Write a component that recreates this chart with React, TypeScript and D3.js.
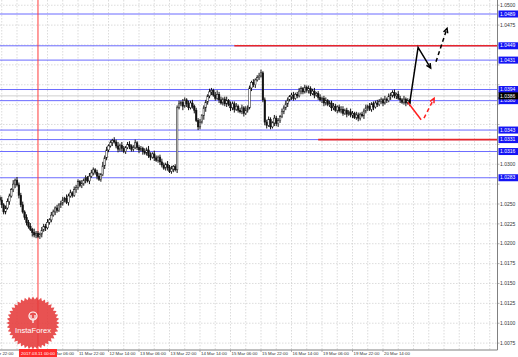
import React from "react";
import * as d3 from "d3";

const W = 518;
const H = 357;
const plotRight = 497.5;
const plotBottom = 350;

// candle data in pips above 1.0000 (open = previous close)
const firstBar = 7;
const firstOpen = 258;
const closes = [
  255, 249, 240, 245, 253, 260,
  268, 275, 280, 274,
  261, 249, 240, 233, 227, 222,
  218, 214, 211, 213, 209, 212,
  217, 222, 220, 227, 230,
  236, 240, 245, 242, 249, 251,
  255, 257, 252, 260, 264, 261,
  268, 271, 278, 273, 276, 280,
  283, 279, 285, 289, 293, 290,
  285, 281, 287, 298, 308,
  318, 323, 327, 330, 328,
  323, 319, 324, 320, 316, 321, 325,
  323, 319, 321, 327, 321, 318, 320, 316,
  314, 318, 311, 309, 313, 308, 305, 309,
  303, 299, 295, 300, 296, 291, 294, 297, 293,
  371, 376,
  378, 373, 381, 376, 371, 377, 373, 368,
  355, 347, 353, 361,
  371, 378, 386, 391, 393,
  387, 383, 388, 381, 377, 382, 376, 380,
  375, 371, 376, 369, 373, 368, 366, 371, 364,
  368, 371,
  396, 403, 400, 406, 409, 411, 415,
  381, 353,
  349, 356, 347, 352, 358, 351, 355, 360,
  366, 371, 376, 381, 385, 387,
  383, 388, 386, 392, 395, 391, 397, 393,
  395, 389, 392, 387, 389, 384, 381,
  383, 377, 380, 375, 377, 371, 373, 368,
  372, 367, 369, 364, 368, 363, 366, 362,
  364, 359, 362, 358, 363, 361, 367,
  371, 373, 369, 376, 372, 377, 375,
  379, 381, 377, 382, 380, 385, 387,
  390, 386, 388, 383, 381,
  378, 382, 377, 380, 376,
];
const upperWicks =
  "3423432524" + "3342434253" + "3243342432" + "4234253424" + "3324232443" +
  "2342534232" + "4352432342" + "3423324354" + "2432343243" + "4233424324" +
  "3423342332" + "4324534235" + "2433423425" + "3324234423" + "3432433243" +
  "4323423432" + "3243342342" + "3423343234" + "4232432432" + "3342423343" +
  "3242433424" + "324232";
const lowerWicks =
  "2433242352" + "4323432534" + "2342423324" + "3243324232" + "4323342423" +
  "3423243324" + "2343423243" + "3234242334" + "2423432342" + "3424235243" +
  "2342432553" + "3423242334" + "2434232342" + "3243423234" + "4232434323" +
  "3424323243" + "2343242324" + "4323432423" + "3242342343" + "2434234232" +
  "3423243342" + "423423";

const timeLabels = [
  "09 Mar 22:00", "10 Mar 14:00", "11 Mar 06:00", "11 Mar 22:00", "12 Mar 14:00",
  "13 Mar 06:00", "13 Mar 22:00", "14 Mar 14:00", "15 Mar 06:00", "15 Mar 22:00",
  "16 Mar 14:00", "19 Mar 06:00", "19 Mar 22:00", "20 Mar 14:00",
];
const barsPerLabel = 16;
const barsPerGrid = 8;

const priceTicks = [
  1.05, 1.0475, 1.045, 1.0425, 1.04, 1.0375, 1.035, 1.0325, 1.03, 1.0275,
  1.025, 1.0225, 1.02, 1.0175, 1.015, 1.0125, 1.01, 1.0075,
];

const blueLevels = [1.0489, 1.0449, 1.0431, 1.0394, 1.038, 1.0343, 1.0331, 1.0316, 1.0283];
const bidLevel = 1.0386;
const redLevels = [
  { price: 1.0449, fromBar: 130 },
  { price: 1.0331, fromBar: 174 },
];
const markerBar = 27;
const markerLabel = "2017.03.11 00:00";

const blackSolid: [number, number][] = [[222, 1.0377], [226.4, 1.0447], [233, 1.0421]];
const blackDashed: [number, number][] = [[235.8, 1.0429], [241.6, 1.0471]];
const redSolid: [number, number][] = [[221, 1.0378], [228, 1.0356]];
const redDashed: [number, number][] = [[229.5, 1.0358], [234.8, 1.0383]];

const x = d3.scaleLinear().domain([0, 16]).range([-13.5, 17]);
const y = d3.scaleLinear().domain([1.0489, 1.0075]).range([14, 343.1]);

function arrowHead(pts: [number, number][], color: string, len = 5) {
  const a = pts[pts.length - 2];
  const b = pts[pts.length - 1];
  const x1 = x(a[0]), y1 = y(a[1]), x2 = x(b[0]), y2 = y(b[1]);
  const ang = Math.atan2(y2 - y1, x2 - x1);
  const s = 0.45;
  const p1 = [x2 - len * Math.cos(ang - s), y2 - len * Math.sin(ang - s)];
  const p2 = [x2 - len * Math.cos(ang + s), y2 - len * Math.sin(ang + s)];
  return (
    <path
      d={`M${p1[0]},${p1[1]}L${x2},${y2}L${p2[0]},${p2[1]}`}
      fill="none"
      stroke={color}
      strokeWidth={1.5}
    />
  );
}

function serratedPath(cx: number, cy: number, r1: number, r2: number, n: number) {
  const pts: string[] = [];
  for (let k = 0; k < n * 2; k++) {
    const r = k % 2 === 0 ? r1 : r2;
    const a = (Math.PI * k) / n;
    pts.push(`${cx + r * Math.cos(a)},${cy + r * Math.sin(a)}`);
  }
  return "M" + pts.join("L") + "Z";
}

export default function App() {
  const line = d3
    .line<[number, number]>()
    .x((d) => x(d[0]))
    .y((d) => y(d[1]));

  const candles = closes.map((c, k) => {
    const o = k === 0 ? firstOpen : closes[k - 1];
    const hi = Math.max(o, c) + Number(upperWicks[k]);
    const lo = Math.min(o, c) - Number(lowerWicks[k]);
    return { i: k + firstBar, o, c, hi, lo };
  });
  const P = (p: number) => 1 + p / 10000;

  const gridBars = d3.range(0, 268, barsPerGrid);
  const fontAxis = "'Liberation Sans', Arial, sans-serif";
  const highlighted = [...blueLevels, bidLevel];
  const visibleTicks = priceTicks.filter(
    (p) => !highlighted.some((h) => Math.abs(y(h) - y(p)) < 6.5)
  );
  const markerLeft = x(markerBar) - 19;
  const markerRight = x(markerBar) + 19;

  return (
    <svg
      width={W}
      height={H}
      style={{ position: "absolute", left: 0, top: 0, background: "#fff" }}
    >
      <defs>
        <clipPath id="outsideMarker">
          <rect x={markerRight} y={plotBottom} width={W} height={H} />
          <rect x={-20} y={plotBottom} width={markerLeft + 20} height={H} />
        </clipPath>
      </defs>
      <rect x={0} y={0} width={W} height={H} fill="#fff" />
      {/* grid */}
      {gridBars.map((b) => (
        <line
          key={"vg" + b}
          x1={x(b)}
          x2={x(b)}
          y1={0}
          y2={plotBottom}
          stroke="#c4c4c4"
          strokeWidth={0.6}
          strokeDasharray="1.5,1.5"
        />
      ))}
      {priceTicks.map((p) => (
        <line
          key={"hg" + p}
          x1={0}
          x2={plotRight}
          y1={y(p)}
          y2={y(p)}
          stroke="#c4c4c4"
          strokeWidth={0.6}
          strokeDasharray="1.5,1.5"
        />
      ))}
      {/* levels */}
      {blueLevels.map((p) => (
        <line key={"bl" + p} x1={0} x2={plotRight} y1={y(p)} y2={y(p)} stroke="#6b6bff" strokeWidth={1} />
      ))}
      <line x1={0} x2={plotRight} y1={y(bidLevel)} y2={y(bidLevel)} stroke="#b0b0b0" strokeWidth={0.6} />
      {redLevels.map((r) => (
        <line
          key={"rl" + r.price}
          x1={x(r.fromBar)}
          x2={plotRight}
          y1={y(r.price)}
          y2={y(r.price)}
          stroke="#e8262a"
          strokeWidth={1.6}
        />
      ))}
      {/* marker vertical */}
      <line x1={x(markerBar)} x2={x(markerBar)} y1={0} y2={plotBottom} stroke="#ff3b3b" strokeWidth={1} />
      {/* candles */}
      {candles.map((d) => {
        const cx = x(d.i);
        const top = y(P(Math.max(d.o, d.c)));
        const bot = y(P(Math.min(d.o, d.c)));
        const bull = d.c >= d.o;
        return (
          <g key={"c" + d.i}>
            <line x1={cx} x2={cx} y1={y(P(d.hi))} y2={y(P(d.lo))} stroke="#111" strokeWidth={1} />
            <rect
              x={cx - 0.8}
              y={top}
              width={1.6}
              height={Math.max(0.8, bot - top)}
              fill={bull ? "#fff" : "#111"}
              stroke="#111"
              strokeWidth={0.5}
            />
          </g>
        );
      })}
      {/* annotations */}
      <path d={line(blackSolid) || ""} fill="none" stroke="#000" strokeWidth={1.5} />
      {arrowHead(blackSolid, "#000")}
      <path d={line(blackDashed) || ""} fill="none" stroke="#000" strokeWidth={1.5} strokeDasharray="4,3" />
      {arrowHead(blackDashed, "#000")}
      <path d={line(redSolid) || ""} fill="none" stroke="#ff2020" strokeWidth={1.5} />
      <path d={line(redDashed) || ""} fill="none" stroke="#ff2020" strokeWidth={1.5} strokeDasharray="4,3" />
      {arrowHead(redDashed, "#ff2020")}

      {/* axes */}
      <line x1={plotRight} x2={plotRight} y1={0} y2={plotBottom} stroke="#808080" strokeWidth={1} />
      <line x1={0} x2={plotRight} y1={plotBottom} y2={plotBottom} stroke="#808080" strokeWidth={1} />
      {priceTicks.map((p) => (
        <line key={"ptk" + p} x1={plotRight} x2={plotRight + 2} y1={y(p)} y2={y(p)} stroke="#808080" strokeWidth={0.6} />
      ))}
      {visibleTicks.map((p) => (
        <text key={"pt" + p} x={500} y={y(p) + 1.7} fontSize={5} fontFamily={fontAxis} fill="#333">
          {p.toFixed(4)}
        </text>
      ))}
      <g clipPath="url(#outsideMarker)">
        {timeLabels.map((t, k) => {
          const bx = x(k * barsPerLabel);
          const hidden = bx + 27 > markerLeft && bx < markerLeft;
          if (hidden) return null;
          return (
            <g key={"tl" + k}>
              <line x1={bx} x2={bx} y1={plotBottom} y2={plotBottom + 2} stroke="#808080" strokeWidth={0.6} />
              <text x={bx + 1} y={355.3} fontSize={4.4} fontFamily={fontAxis} fill="#333">
                {t}
              </text>
            </g>
          );
        })}
      </g>
      {/* highlighted price labels */}
      {blueLevels.map((p) => (
        <g key={"hl" + p}>
          <rect x={498.5} y={y(p) - 3.5} width={19.5} height={7} fill="#1414f5" />
          <text x={500} y={y(p) + 1.7} fontSize={5} fontFamily={fontAxis} fill="#fff">
            {p.toFixed(4)}
          </text>
        </g>
      ))}
      <rect x={498.5} y={y(bidLevel) - 3.5} width={19.5} height={7} fill="#000" />
      <text x={500} y={y(bidLevel) + 1.7} fontSize={5} fontFamily={fontAxis} fill="#fff">
        {bidLevel.toFixed(4)}
      </text>
      {/* marker time label */}
      <rect x={markerLeft} y={349} width={38} height={8} fill="#ff2a2a" />
      <text
        x={x(markerBar)}
        y={355.3}
        fontSize={4.4}
        fontFamily={fontAxis}
        fill="#fff"
        textAnchor="middle"
      >
        {markerLabel}
      </text>
      {/* logo */}
      <g opacity={0.88}>
        <path d={serratedPath(33, 323, 26.5, 23.5, 40)} fill="#e53a3a" />
      </g>
      <g stroke="#fff" fill="none" strokeWidth={1.2}>
        <circle cx={33} cy={316} r={4} />
        <line x1={33} y1={318} x2={33} y2={323} />
        <line x1={31} y1={315} x2={31} y2={319} />
        <line x1={35} y1={315} x2={35} y2={319} />
      </g>
      <text
        x={33}
        y={333}
        fontSize={7.6}
        fontFamily={fontAxis}
        fill="#fff"
        textAnchor="middle"
      >
        InstaForex
      </text>
    </svg>
  );
}
